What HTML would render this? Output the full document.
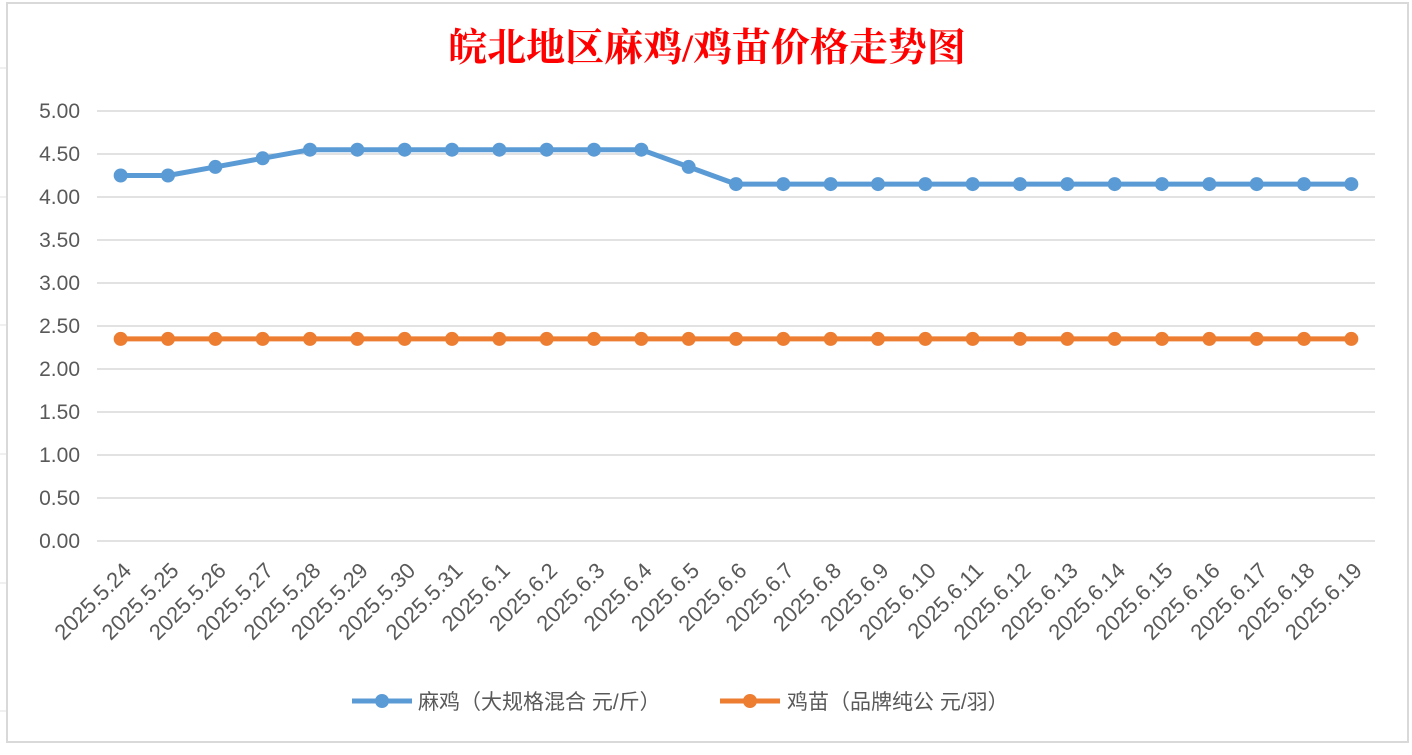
<!DOCTYPE html>
<html><head><meta charset="utf-8"><style>
body{margin:0;background:#fff;width:1412px;height:750px;overflow:hidden;font-family:"Liberation Sans","Noto Sans CJK SC",sans-serif}
</style></head><body>
<svg id="c" width="1412" height="750" xmlns="http://www.w3.org/2000/svg">
<line x1="0" y1="68" x2="7" y2="68" stroke="#e0e0e0"/><line x1="0" y1="197" x2="7" y2="197" stroke="#e0e0e0"/>
<line x1="0" y1="325" x2="7" y2="325" stroke="#e0e0e0"/><line x1="0" y1="454" x2="7" y2="454" stroke="#e0e0e0"/>
<line x1="0" y1="583" x2="7" y2="583" stroke="#e0e0e0"/><line x1="0" y1="711" x2="7" y2="711" stroke="#e0e0e0"/>
<rect x="7" y="3" width="1401" height="739" fill="#fff" stroke="#d9d9d9" stroke-width="2"/>
<text x="707" y="61" text-anchor="middle" font-size="39" font-weight="bold" fill="#ff0000" font-family="'Liberation Serif','Noto Serif CJK SC',serif">皖北地区麻鸡/鸡苗价格走势图</text>
<g id="grid"></g><g id="xl"></g><g id="series"></g>
<g>
<g><line x1="352" y1="701" x2="412" y2="701" stroke="#5b9bd5" stroke-width="5"/><circle cx="382" cy="701" r="7" fill="#5b9bd5"/>
<text x="418" y="709" font-size="21" fill="#595959">麻鸡（大规格混合 元/斤）</text></g>
<g><line x1="720" y1="701" x2="780" y2="701" stroke="#ed7d31" stroke-width="5"/><circle cx="750" cy="701" r="7" fill="#ed7d31"/>
<text x="787" y="709" font-size="21" fill="#595959">鸡苗（品牌纯公 元/羽）</text></g>
</g>
</svg>
<script>
const categories=["2025.5.24","2025.5.25","2025.5.26","2025.5.27","2025.5.28","2025.5.29","2025.5.30","2025.5.31","2025.6.1","2025.6.2","2025.6.3","2025.6.4","2025.6.5","2025.6.6","2025.6.7","2025.6.8","2025.6.9","2025.6.10","2025.6.11","2025.6.12","2025.6.13","2025.6.14","2025.6.15","2025.6.16","2025.6.17","2025.6.18","2025.6.19"];
const majiValues=[4.25,4.25,4.35,4.45,4.55,4.55,4.55,4.55,4.55,4.55,4.55,4.55,4.35,4.15,4.15,4.15,4.15,4.15,4.15,4.15,4.15,4.15,4.15,4.15,4.15,4.15,4.15];
const jimiaoValues=[2.35,2.35,2.35,2.35,2.35,2.35,2.35,2.35,2.35,2.35,2.35,2.35,2.35,2.35,2.35,2.35,2.35,2.35,2.35,2.35,2.35,2.35,2.35,2.35,2.35,2.35,2.35];
const yTicks=[0,0.5,1,1.5,2,2.5,3,3.5,4,4.5,5];
const NS="http://www.w3.org/2000/svg";
const x0=97,x1=1375,y0=541,y1=111,yMax=5;
const step=(x1-x0)/categories.length;
const xs=i=>x0+step*(i+0.5);
const ys=v=>y0-(v/yMax)*(y0-y1);
function mk(t,a,p){const e=document.createElementNS(NS,t);for(const k in a)e.setAttribute(k,a[k]);p.appendChild(e);return e;}
const grid=document.getElementById('grid');
yTicks.forEach(v=>{
 const l=mk('line',{x1:x0,x2:x1,y1:ys(v),y2:ys(v),stroke:'#d9d9d9','stroke-width':1.5},grid);
 
 
 const t=mk('text',{x:80,y:ys(v)+7,'text-anchor':'end','font-size':21,fill:'#595959'},grid);
 t.textContent=v.toFixed(2);
 
 
});
const xl=document.getElementById('xl');
categories.forEach((c,i)=>{
 const x=xs(i)+12,y=572;
 const t=mk('text',{x:x,y:y,'text-anchor':'end','font-size':22,fill:'#595959',transform:`rotate(-45 ${x} ${y})`},xl);
 t.textContent=c;
 
 
});
const sg=document.getElementById('series');
[[majiValues,'#5b9bd5','maji'],[jimiaoValues,'#ed7d31','jimiao']].forEach(([vals,col,nm])=>{
 const p=mk('polyline',{points:vals.map((v,i)=>xs(i)+','+ys(v)).join(' '),fill:'none',stroke:col,'stroke-width':5,'stroke-linejoin':'round'},sg);
 
 
 vals.forEach((v,i)=>{
  const c=mk('circle',{cx:xs(i),cy:ys(v),r:7,fill:col},sg);
  
  
 });
});
</script>
</body></html>
